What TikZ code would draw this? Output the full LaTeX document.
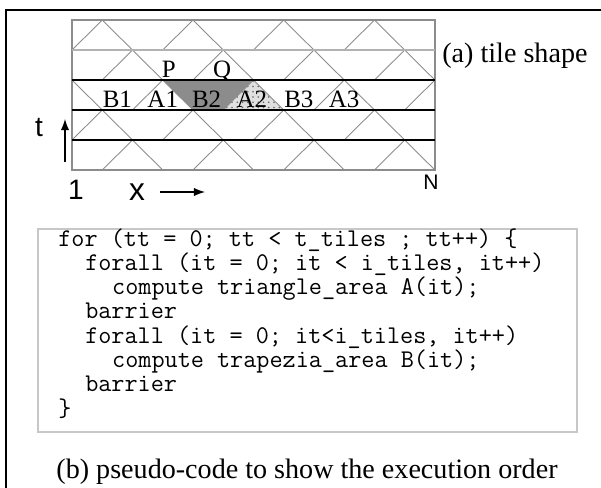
\documentclass[tikz,border=0pt]{standalone}
\usepackage{fontspec}
\setmainfont{Liberation Serif}
\setsansfont{Liberation Sans}
\usetikzlibrary{arrows,patterns}

\tikzset{
	gridline/.style={draw=black!45, line width=0.9pt},
	rowline/.style={draw=black, line width=0.8pt},
	diagline/.style={draw=black!45, line width=0.5pt},
	tilelabel/.style={font=\fontsize{14.2}{16}\selectfont, inner sep=0pt, anchor=base},
	axislabel/.style={font=\sffamily\fontsize{16}{18}\selectfont, inner sep=0pt},
	codeline/.style={font=\ttfamily\fontsize{14.5}{16}\selectfont, inner sep=0pt, anchor=base west},
	caption/.style={font=\fontsize{16}{18}\selectfont, inner sep=0pt},
}

\begin{document}
\begin{tikzpicture}[x=0.02cm, y=-0.02cm]
	\useasboundingbox (0,0) rectangle (601,487);
	\draw[line width=1.2pt] (6,495) -- (6,10) -- (610,10);

	% tile grid, one unit per row
	\begin{scope}[shift={(72,170)}, x=0.605cm, y=0.6cm]
		\fill[black!45] (3,3) -- (6,3) -- (5,2) -- (4,2) -- cycle;
		\fill[black!12] (6,3) -- (5,2) -- (7,2) -- cycle;
		\fill[pattern=dots, pattern color=black!60] (6,3) -- (5,2) -- (7,2) -- cycle;
		\begin{scope}
			\clip (0,0) rectangle (12,5);
			\foreach \v/\o in {0/2,1/1,2/0,3/2,4/1}
				\foreach \k in {-1,...,4}
					\draw[diagline] ({3*\k+\o-1},\v) -- ({3*\k+\o},\v+1) -- ({3*\k+\o+1},\v);
		\end{scope}
		\draw[gridline] (0,0) rectangle (12,5);
		\draw[gridline, draw=black!30] (0,4) -- (12,4);
		\foreach \v in {1,2,3}
			\draw[rowline] (0,\v) -- (12,\v);

		\node[tilelabel] (p) at (3.2,3.08) {P};
		\node[tilelabel] (q) at (4.96,3.08) {Q};
		\node[tilelabel] (b1) at (1.5,2.1) {B1};
		\node[tilelabel] (a1) at (3.0,2.1) {A1};
		\node[tilelabel] (b2) at (4.45,2.1) {B2};
		\node[tilelabel] (a2) at (5.95,2.1) {A2};
		\node[tilelabel] (b3) at (7.5,2.1) {B3};
		\node[tilelabel] (a3) at (9.0,2.1) {A3};
	\end{scope}

	\node[caption, anchor=base west] (capa) at (442,62) {(a) tile shape};

	% axes
	\node[axislabel] (tlab) at (39,128) {t};
	\coordinate (tfrom) at (65,162);
	\coordinate (tto) at (65,119);
	\draw[-latex, line width=1.2pt] (tfrom) -- (tto);
	\node[axislabel] (one) at (76,190) {1};
	\node[axislabel, font=\sffamily\fontsize{18}{20}\selectfont] (xlab) at (137,192) {x};
	\coordinate (xfrom) at (160,192);
	\coordinate (xto) at (205,192);
	\draw[-latex, line width=1.2pt] (xfrom) -- (xto);
	\node[axislabel, font=\sffamily\fontsize{12}{14}\selectfont] (nlab) at (431,182) {N};

	% pseudo-code
	\draw[draw=black!22, line width=1.3pt] (38,229) rectangle (577,432);
	\node[codeline] (l1) at (58,246) {for (tt = 0; tt < t\_tiles ; tt++) \{};
	\node[codeline] (l2) at (84.9,270.3) {forall (it = 0; it < i\_tiles, it++)};
	\node[codeline] (l3) at (111.8,294.6) {compute triangle\_area A(it);};
	\node[codeline] (l4) at (84.9,318.9) {barrier};
	\node[codeline] (l5) at (84.9,343.1) {forall (it = 0; it<i\_tiles, it++)};
	\node[codeline] (l6) at (111.8,367.4) {compute trapezia\_area B(it);};
	\node[codeline] (l7) at (84.9,391.7) {barrier};
	\node[codeline] (l8) at (58,416) {\}};

	\node[caption, anchor=base] (capb) at (307,478) {(b) pseudo-code to show the execution order};
\end{tikzpicture}
\end{document}
